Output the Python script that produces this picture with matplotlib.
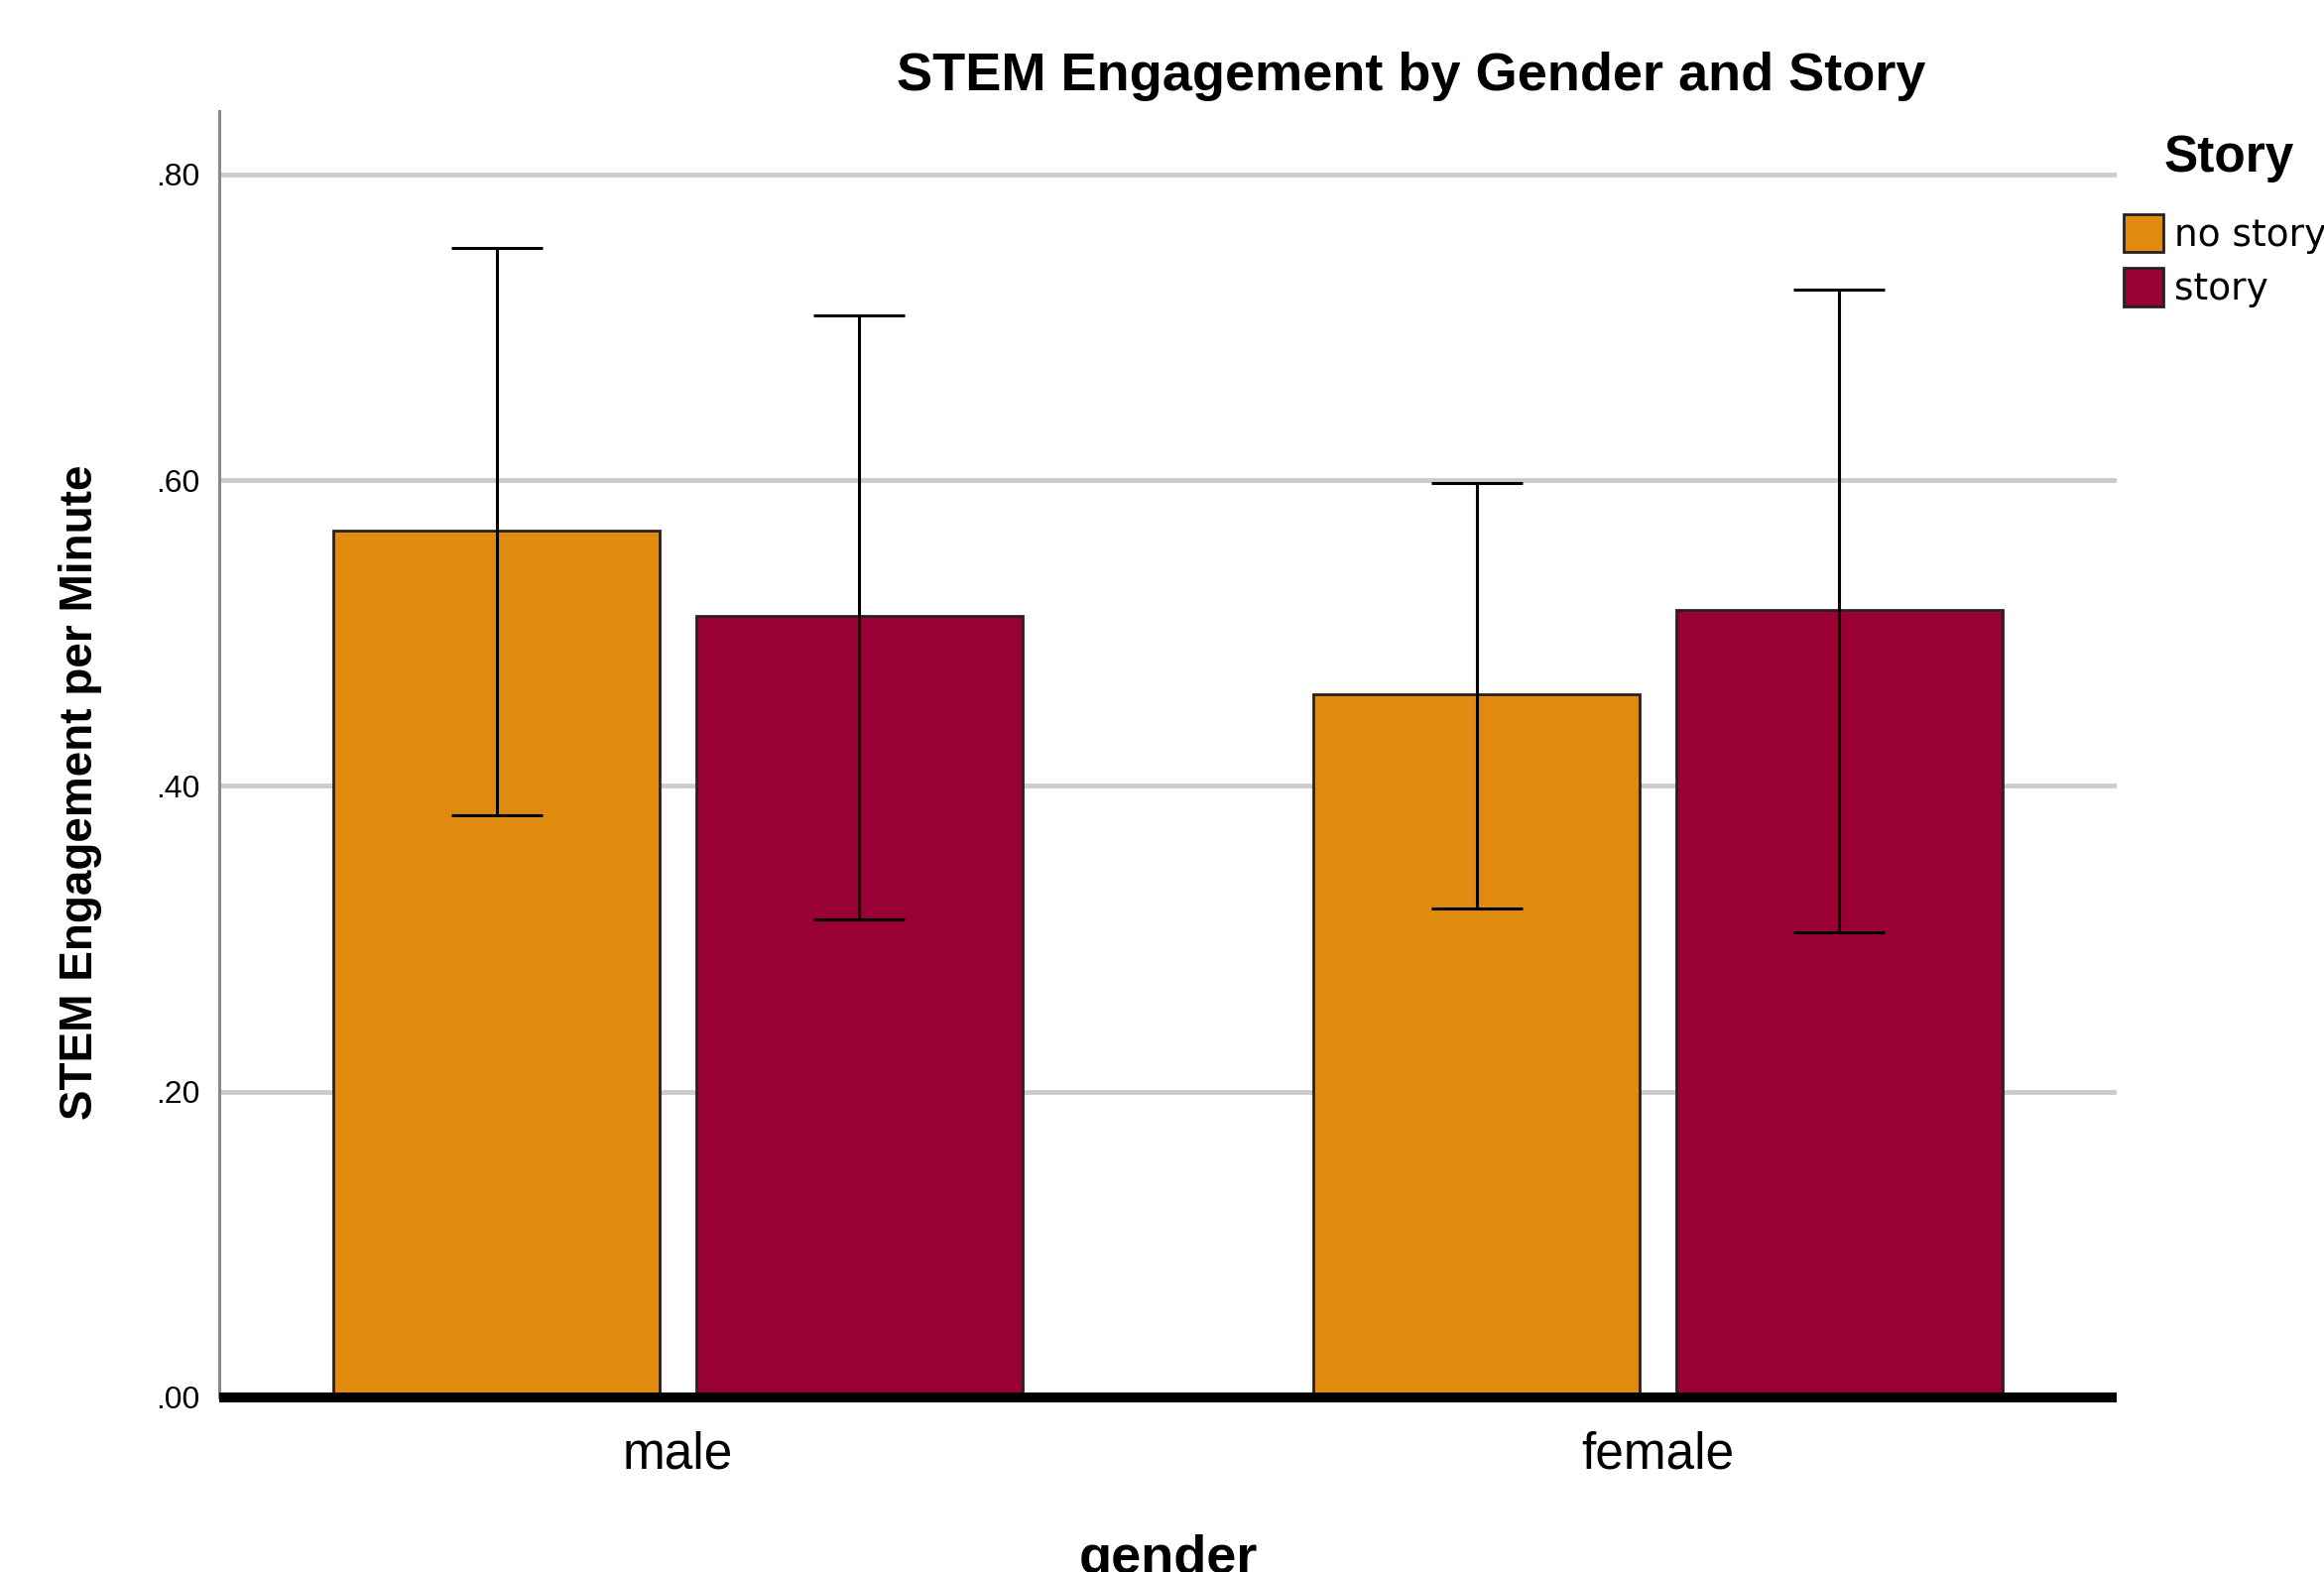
import matplotlib
matplotlib.use("Agg")
import matplotlib.pyplot as plt
import numpy as np

genders = ["male", "female"]
stories = ["no story", "story"]
means = {"no story": [0.567, 0.460], "story": [0.511, 0.515]}
upper = {"no story": [0.752, 0.598], "story": [0.708, 0.725]}
lower = {"no story": [0.381, 0.320], "story": [0.313, 0.304]}
colors = {"no story": "#E08A10", "story": "#990033"}
yticks = [0.0, 0.2, 0.4, 0.6, 0.8]
ytick_labels = [".00", ".20", ".40", ".60", ".80"]

W, H = 2343, 1585
fig = plt.figure(figsize=(W / 100, H / 100), dpi=100)
ax = fig.add_axes([221 / W, 1 - 1409 / H, (2134 - 221) / W, (1409 - 112) / H])

narrow = ["Liberation Sans Narrow", "Liberation Sans", "DejaVu Sans"]
sans = ["Liberation Sans", "DejaVu Sans"]

x = np.arange(len(genders))
width = 0.333
offsets = [-0.185, 0.185]
handles = []
for s, off in zip(stories, offsets):
    m = np.array(means[s])
    up = np.array(upper[s]) - m
    lo = m - np.array(lower[s])
    b = ax.bar(x + off, m, width, color=colors[s], edgecolor="#2a2020",
               linewidth=2.0, zorder=3, label=s)
    handles.append(b)
    ax.errorbar(x + off, m, yerr=[lo, up], fmt="none", ecolor="black",
                elinewidth=2.2, capsize=33, capthick=2.2, zorder=4)

ax.set_xlim(-0.468, 1.468)
ax.set_ylim(0, 0.8415)
ax.set_yticks(yticks)
ax.set_yticklabels(ytick_labels, fontfamily=sans, fontsize=23)
ax.set_xticks(x)
ax.set_xticklabels(genders, fontfamily=sans, fontsize=37)
ax.tick_params(axis="y", length=0, pad=14)
ax.tick_params(axis="x", length=0, pad=24)

for yv in yticks[1:]:
    ax.axhline(yv, color="#cccccc", linewidth=3.5, zorder=1)
ax.axhline(0, color="black", linewidth=7.2, zorder=5, clip_on=False,
           solid_capstyle="butt")

for sp in ["top", "right", "bottom"]:
    ax.spines[sp].set_visible(False)
ax.spines["left"].set_color("#888888")
ax.spines["left"].set_linewidth(2.2)

fig.text(1423 / W, 1 - 77 / H, "STEM Engagement by Gender and Story",
         fontfamily=sans, fontweight="bold", fontsize=39, ha="center", va="center")
fig.text(81 / W, 1 - 799 / H, "STEM Engagement per Minute", rotation=90,
         fontfamily=narrow, fontweight="bold", fontsize=33, ha="center", va="center")
fig.text(((221 + 2134) / 2) / W, 1 - 1547 / H, "gender",
         fontfamily=sans, fontweight="bold", fontsize=39, ha="center", va="top")

fig.text(2247 / W, 1 - 160 / H, "Story", fontfamily=sans, fontweight="bold",
         fontsize=37, ha="center", va="center")
leg = fig.legend(handles=handles, labels=stories,
                 loc="upper left", bbox_to_anchor=(2141 / W, 1 - 216 / H),
                 frameon=False, borderpad=0, borderaxespad=0,
                 prop={"family": "DejaVu Sans", "size": 27},
                 handlelength=1.07, handleheight=1.2, handletextpad=0.3,
                 labelspacing=0.38)

fig.savefig("out.png", dpi=100)
